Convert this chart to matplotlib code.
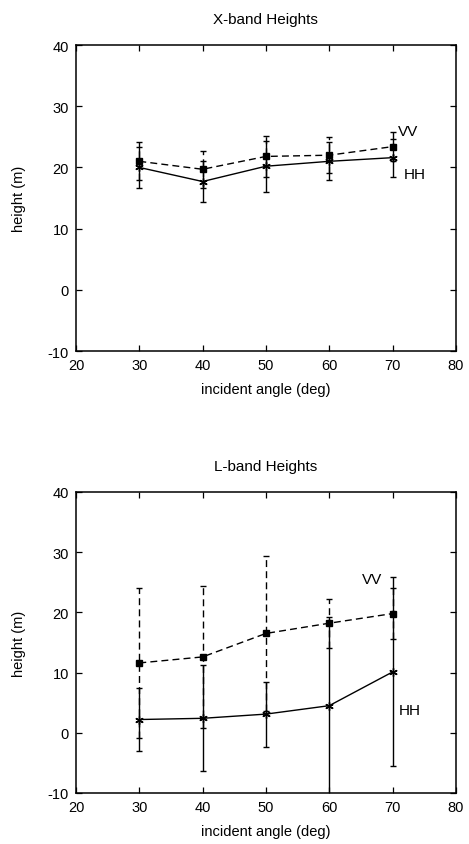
import matplotlib
matplotlib.use("Agg")
import matplotlib.pyplot as plt
import numpy as np

plt.rcParams['font.family'] = ['Liberation Sans', 'DejaVu Sans']
plt.rcParams['axes.unicode_minus'] = False

angles = [30, 40, 50, 60, 70]

# X-band
x_vv = [21.0, 19.7, 21.8, 22.0, 23.4]
x_vv_err = [3.1, 3.0, 3.4, 2.9, 2.4]
x_hh = [20.0, 17.7, 20.2, 21.0, 21.6]
x_hh_err = [3.3, 3.4, 4.2, 3.1, 3.1]

# L-band
l_vv = [11.6, 12.6, 16.5, 18.2, 19.8]
l_vv_err = [12.5, 11.8, 12.9, 4.1, 4.3]
l_hh = [2.2, 2.4, 3.1, 4.5, 10.1]
l_hh_err = [5.3, 8.8, 5.4, 14.8, 15.7]

xticks = [20, 30, 40, 50, 60, 70, 80]
yticks = [-10, 0, 10, 20, 30, 40]

fig = plt.figure(figsize=(4.69, 8.45), dpi=100)
ax1 = fig.add_axes([0.162, 0.5834, 0.810, 0.3621])
ax2 = fig.add_axes([0.162, 0.0604, 0.810, 0.3562])


def draw(ax, vv, vv_err, hh, hh_err, title, vv_pos, hh_pos):
    e1 = ax.errorbar(angles, vv, yerr=vv_err, color='k', ls='--', lw=1.0,
                     marker='s', ms=4, mfc='k', capsize=2.5, elinewidth=1.0,
                     dashes=(5, 3))
    e1[2][0].set_linestyle((0, (5, 3)))
    ax.errorbar(angles, hh, yerr=hh_err, color='k', ls='-', lw=1.0,
                marker=(6, 2, 0), ms=6, capsize=2.5, elinewidth=1.0)
    ax.set_xlim(20, 80)
    ax.set_ylim(-10, 40)
    ax.set_xticks(xticks)
    ax.set_yticks(yticks)
    for s in ax.spines.values():
        s.set_linewidth(1.1)
    ax.tick_params(direction='in', top=True, right=True, labelsize=10.5,
                   length=4, width=0.9, pad=5)
    ax.set_xlabel('incident angle (deg)', fontsize=10.5, labelpad=7)
    ax.set_ylabel('height (m)', fontsize=10.5, labelpad=16)
    ax.set_title(title, fontsize=11, pad=16)
    ax.text(vv_pos[0], vv_pos[1], 'VV', fontsize=11, ha='left', va='center')
    ax.text(hh_pos[0], hh_pos[1], 'HH', fontsize=11, ha='left', va='center')


draw(ax1, x_vv, x_vv_err, x_hh, x_hh_err, 'X-band Heights',
     (70.8, 26.0), (71.8, 18.9))
draw(ax2, l_vv, l_vv_err, l_hh, l_hh_err, 'L-band Heights',
     (65.1, 25.5), (70.9, 3.8))

fig.savefig('out.png', dpi=100)
